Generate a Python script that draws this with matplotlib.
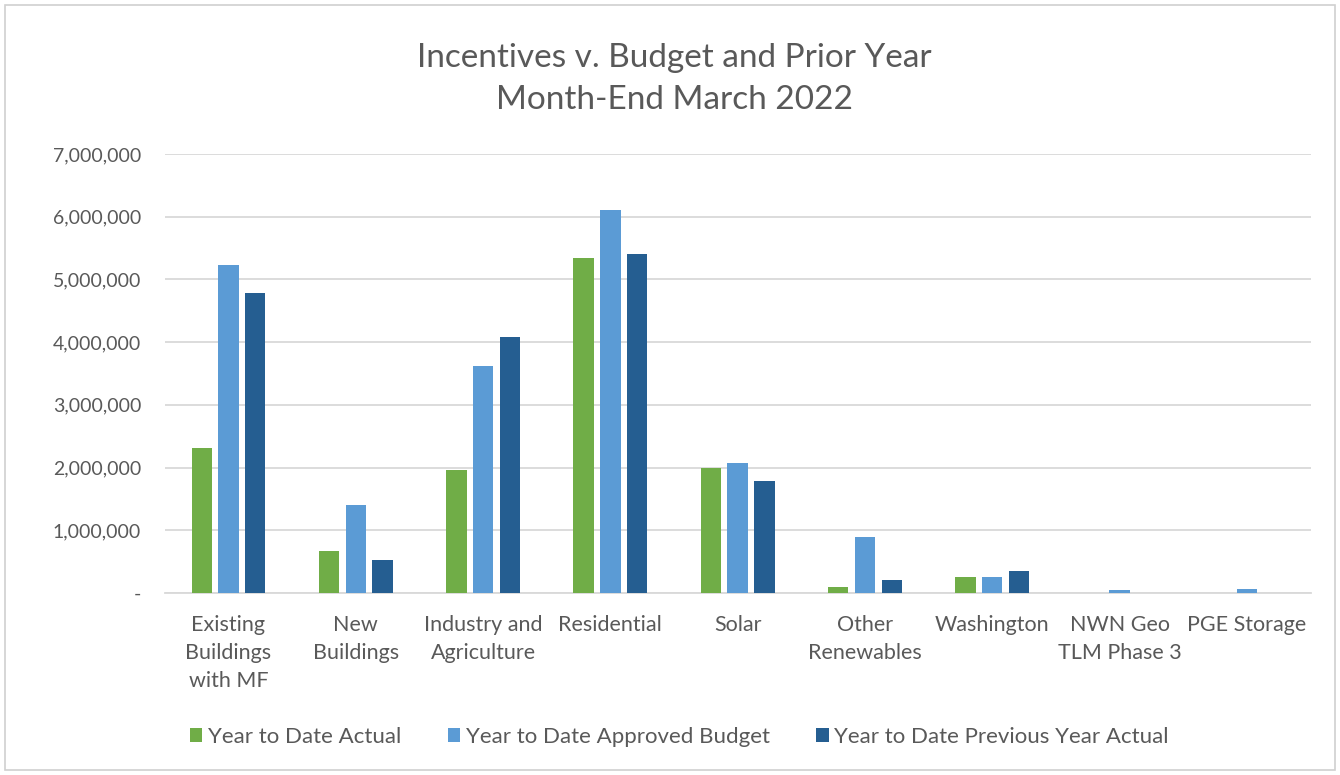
import numpy as np
import matplotlib
matplotlib.use('Agg')
import matplotlib.pyplot as plt
from matplotlib.ticker import FuncFormatter
from matplotlib.patches import Rectangle

plt.rcParams['font.family'] = ['Lato', 'DejaVu Sans']

# Data
categories = ['Existing\nBuildings\nwith MF', 'New\nBuildings', 'Industry and\nAgriculture',
              'Residential', 'Solar', 'Other\nRenewables', 'Washington',
              'NWN Geo\nTLM Phase 3', 'PGE Storage']
ytd_actual = [2310000, 670000, 1960000, 5340000, 2000000, 96000, 260000, 0, 0]
ytd_budget = [5230000, 1410000, 3620000, 6100000, 2080000, 900000, 260000, 53000, 70000]
ytd_prev_year = [4780000, 530000, 4090000, 5410000, 1790000, 200000, 345000, 0, 0]
series_names = ['Year to Date Actual', 'Year to Date Approved Budget',
                'Year to Date Previous Year Actual']
colors = ['#70ad47', '#5b9bd5', '#255e91']
text_color = '#595959'

fig = plt.figure(figsize=(13.4, 7.75), dpi=100)
ax = fig.add_axes([0.123, 0.2348, 0.855, 0.5665])

x = np.arange(len(categories))
width = 0.16
step = 0.21
for i, (vals, name) in enumerate(zip([ytd_actual, ytd_budget, ytd_prev_year], series_names)):
    ax.bar(x + (i - 1) * step, vals, width, color=colors[i], label=name, zorder=3)

ax.set_xlim(-0.5, len(categories) - 0.5)
ax.set_ylim(0, 7000000)
ax.set_yticks(np.arange(0, 7000001, 1000000))
ax.yaxis.set_major_formatter(FuncFormatter(lambda v, p: '-' if v == 0 else f'{int(v):,}'))
ax.grid(axis='y', color='#d9d9d9', linewidth=1.3, zorder=0)
for s in ['top', 'right', 'left']:
    ax.spines[s].set_visible(False)
ax.spines['bottom'].set_color('#d9d9d9')
ax.spines['bottom'].set_linewidth(1.3)
ax.tick_params(axis='both', length=0, colors=text_color)
ax.tick_params(axis='y', pad=17, labelsize=14)
ax.tick_params(axis='x', pad=16, labelsize=15.5)
ax.set_xticks(x)
ax.set_xticklabels(categories, linespacing=1.5)

fig.text(0.503, 0.898, 'Incentives v. Budget and Prior Year\nMonth-End March 2022',
         ha='center', va='center', fontsize=24, color=text_color, linespacing=1.5)

fig.legend(loc='center', bbox_to_anchor=(0.507, 0.049), ncol=3, frameon=False,
           fontsize=16, labelcolor=text_color, handlelength=0.55, handleheight=0.55,
           handletextpad=0.25, columnspacing=2.1)

fig.patches.append(Rectangle((0.004, 0.006), 0.992, 0.988, transform=fig.transFigure,
                             fill=False, edgecolor='#d0d0d0', linewidth=1.2))

fig.savefig('out.png', dpi=100, facecolor='white')
